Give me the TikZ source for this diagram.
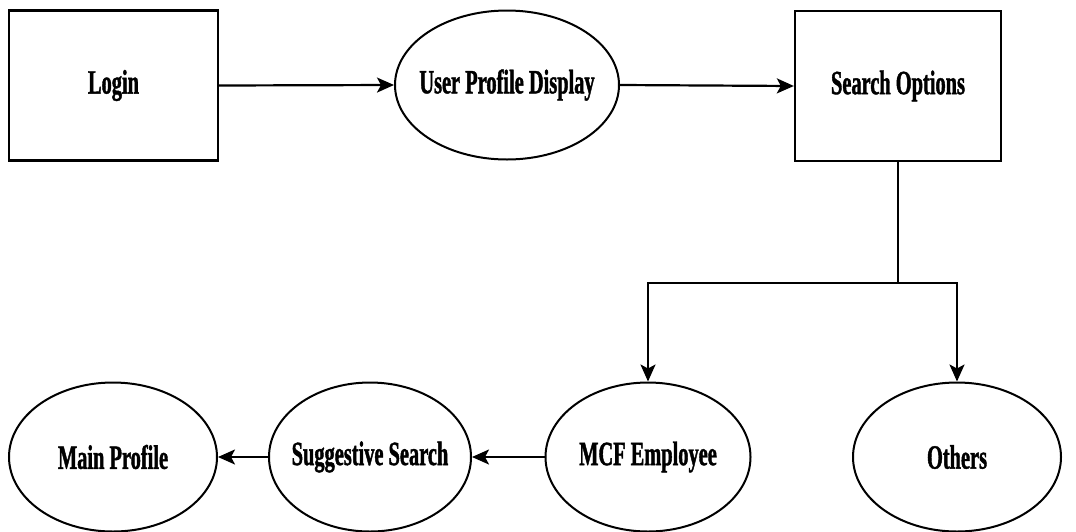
\documentclass[tikz,border=0pt]{standalone}
\usepackage{fontspec}
\newfontfamily\lbl[FakeStretch=0.6,FakeBold=1.2]{Liberation Serif Bold}
\usetikzlibrary{shapes.geometric,arrows.meta}
\begin{document}
\begin{tikzpicture}[x=1pt,y=-1pt,
  every node/.style={inner sep=0pt, font=\lbl\fontsize{34}{40}\selectfont},
  boxnode/.style={draw, line width=2.3pt, rectangle, minimum width=#1, minimum height=150pt},
  ellnode/.style={draw, line width=2pt, ellipse, minimum width=#1, minimum height=149pt},
  conn/.style={line width=2pt},
  arr/.style={line width=2.2pt, -{Stealth[length=17pt,width=15pt,inset=4pt]}}]
\useasboundingbox (0,0) rectangle (1076,531);
\node[boxnode=209pt] (login) at (113.5,85.5) {\makebox[0pt]{Login}};
\node[ellnode=224pt] (upd) at (507,85) {\makebox[0pt]{User Profile Display}};
\node[boxnode=206pt] (search) at (898,86) {\makebox[0pt]{Search Options}};
\node[ellnode=205pt] (mcf) at (648,457) {\makebox[0pt]{MCF Employee}};
\node[ellnode=208pt] (oth) at (957,457) {\makebox[0pt]{Others}};
\node[ellnode=202pt] (sugg) at (370,457) {\makebox[0pt]{Suggestive Search}};
\node[ellnode=208pt] (main) at (113,457) {\makebox[0pt]{Main Profile}};
\coordinate (j) at (898,283);
\draw[arr] (login.east) -- (upd.west);
\draw[arr] (upd.east) -- (search.west);
\draw[conn] (search.south) -- (j);
\draw[arr] (j) -| (mcf.north);
\draw[arr] (j) -| (oth.north);
\draw[arr] (mcf.west) -- (sugg.east);
\draw[arr] (sugg.west) -- (main.east);
\end{tikzpicture}
\end{document}
